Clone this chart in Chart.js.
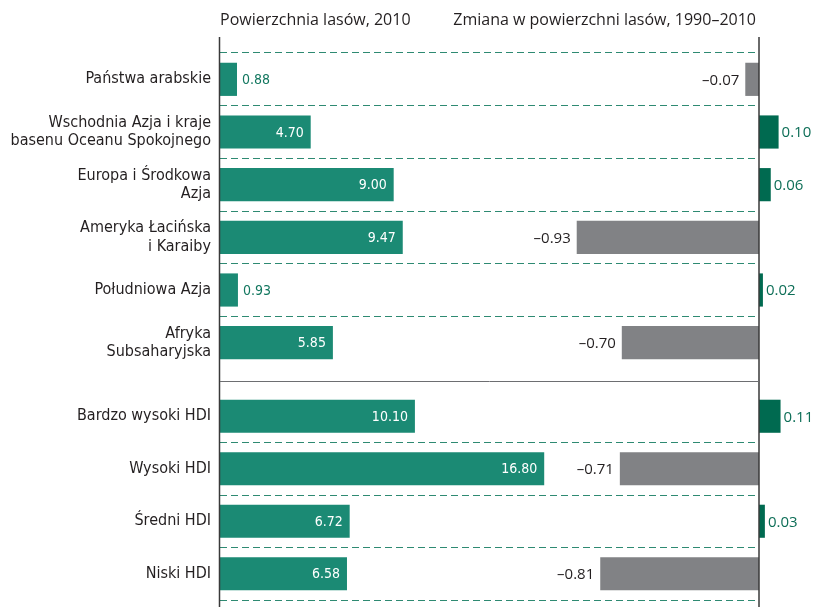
<!DOCTYPE html>
<html>
<head>
<meta charset="utf-8">
<script src="https://cdn.jsdelivr.net/npm/chart.js@4"></script>
<style>
  html, body { margin: 0; padding: 0; background: #fff; }
  #top-wrap { position: absolute; left: 0; top: 0; width: 813px; height: 381px; }
  #hdi-wrap { position: absolute; left: 0; top: 381px; width: 813px; height: 226px; }
</style>
</head>
<body>
<div id="top-wrap"><canvas id="regions-chart"></canvas></div>
<div id="hdi-wrap"><canvas id="hdi-chart"></canvas></div>
<script>
// Regions
const regionLabels = [
    'Państwa arabskie',
    ['Wschodnia Azja i kraje', 'basenu Oceanu Spokojnego'],
    ['Europa i Środkowa', 'Azja'],
    ['Ameryka Łacińska', 'i Karaiby'],
    'Południowa Azja',
    ['Afryka', 'Subsaharyjska']
];
const regionForest = [0.88, 4.70, 9.00, 9.47, 0.93, 5.85];
const regionChange = [-0.07, 0.10, 0.06, -0.93, 0.02, -0.70];

// HDI groups
const hdiLabels = ['Bardzo wysoki HDI', 'Wysoki HDI', 'Średni HDI', 'Niski HDI'];
const hdiForest = [10.10, 16.80, 6.72, 6.58];
const hdiChange = [0.11, -0.71, 0.03, -0.81];

const headerLeft = 'Powierzchnia lasów, 2010';
const headerRight = 'Zmiana w powierzchni lasów, 1990–2010';

const TEAL = '#1b8a74';
const DARK_GREEN = '#006a50';
const GRAY = '#818285';
const DASH = '#2e8a72';
const AXIS = '#3a3a3a';
const TEXT = '#231f20';
const CONDENSED = '"Liberation Sans Narrow", "DejaVu Sans Condensed", sans-serif';
const REGULAR = '"Open Sans", "Noto Sans", sans-serif';

const fmt = v => (v < 0 ? '–' : '') + Math.abs(v).toFixed(2);

// axis lines, headers, separator and value labels
const decorPlugin = {
    id: 'decor',
    afterDatasetsDraw(chart, args, opts) {
        const c = chart.ctx;
        const x0 = chart.scales.x.getPixelForValue(0);
        const x2 = chart.scales.x2.getPixelForValue(0);
        c.save();

        // value labels, left panel
        const m0 = chart.getDatasetMeta(0);
        m0.data.forEach((el, i) => {
            const p = el.getProps(['x', 'y', 'base'], true);
            const v = chart.data.datasets[0].data[i];
            c.textBaseline = 'middle';
            c.font = '14px ' + CONDENSED;
            if (p.x - p.base > 40) {
                c.fillStyle = '#ffffff';
                c.textAlign = 'right';
                c.fillText(v.toFixed(2), p.x - 7, p.y + 1);
            } else {
                c.fillStyle = '#12775f';
                c.textAlign = 'left';
                c.fillText(v.toFixed(2), p.x + 5, p.y + 1);
            }
        });

        // value labels, right panel
        const m1 = chart.getDatasetMeta(1);
        m1.data.forEach((el, i) => {
            const p = el.getProps(['x', 'y', 'base'], true);
            const v = chart.data.datasets[1].data[i];
            c.textBaseline = 'middle';
            c.font = '15px ' + REGULAR;
            if (v < 0) {
                c.fillStyle = TEXT;
                c.textAlign = 'right';
                c.fillText(fmt(v), p.x - 6, p.y + 1);
            } else {
                c.fillStyle = '#0d6e57';
                c.textAlign = 'left';
                c.fillText(fmt(v), p.x + 3, p.y + 1);
            }
        });

        // vertical axis lines
        c.strokeStyle = AXIS;
        c.lineWidth = 1.5;
        c.beginPath();
        c.moveTo(x0 - 0.5, opts.lineTop);
        c.lineTo(x0 - 0.5, chart.height);
        c.moveTo(x2, opts.lineTop);
        c.lineTo(x2, chart.height);
        c.stroke();

        if (opts.separator) {
            c.strokeStyle = '#6d6e71';
            c.lineWidth = 1;
            c.beginPath();
            c.moveTo(x0, 0.5);
            c.lineTo(x2, 0.5);
            c.stroke();
        }

        if (opts.headers) {
            c.font = '16px ' + REGULAR;
            c.fillStyle = TEXT;
            c.textBaseline = 'middle';
            c.textAlign = 'left';
            c.fillText(headerLeft, x0, 20);
            c.textAlign = 'right';
            c.fillText(headerRight, x2 - 3, 20);
        }
        c.restore();
    }
};

function makeChart(id, labels, forest, change, pad, hideLine, decor) {
    return new Chart(document.getElementById(id), {
        type: 'bar',
        data: {
            labels: labels,
            datasets: [
                {
                    data: forest,
                    xAxisID: 'x',
                    backgroundColor: TEAL,
                    grouped: false,
                    categoryPercentage: 1,
                    barPercentage: 0.63
                },
                {
                    data: change,
                    xAxisID: 'x2',
                    backgroundColor: change.map(v => v < 0 ? GRAY : DARK_GREEN),
                    grouped: false,
                    categoryPercentage: 1,
                    barPercentage: 0.63,
                    clip: false
                }
            ]
        },
        options: {
            indexAxis: 'y',
            responsive: true,
            maintainAspectRatio: false,
            animation: false,
            layout: { padding: { left: 0, right: 54, top: pad.top, bottom: pad.bottom } },
            plugins: {
                legend: { display: false },
                tooltip: { enabled: false },
                decor: decor
            },
            scales: {
                x: { type: 'linear', min: 0, max: 27.93, display: false },
                x2: { type: 'linear', min: -2.75, max: 0, display: false },
                y: {
                    afterFit: scale => {
                        scale.width = 220;
                        scale.paddingTop = 0;
                        scale.paddingBottom = 0;
                    },
                    grid: {
                        offset: true,
                        drawTicks: false,
                        lineWidth: 1,
                        color: ctx => hideLine(ctx) ? 'rgba(0,0,0,0)' : DASH
                    },
                    border: { display: false, dash: [7, 4] },
                    ticks: {
                        padding: 9,
                        color: TEXT,
                        font: { family: CONDENSED, size: 16, lineHeight: 1.15 }
                    }
                }
            }
        },
        plugins: [decorPlugin]
    });
}

makeChart('regions-chart', regionLabels, regionForest, regionChange,
    { top: 53, bottom: 12 },
    ctx => ctx.index === undefined,
    { lineTop: 37, headers: true, separator: false });

makeChart('hdi-chart', hdiLabels, hdiForest, hdiChange,
    { top: 9, bottom: 7 },
    ctx => ctx.index === 0,
    { lineTop: 0, headers: false, separator: true });
</script>
</body>
</html>
